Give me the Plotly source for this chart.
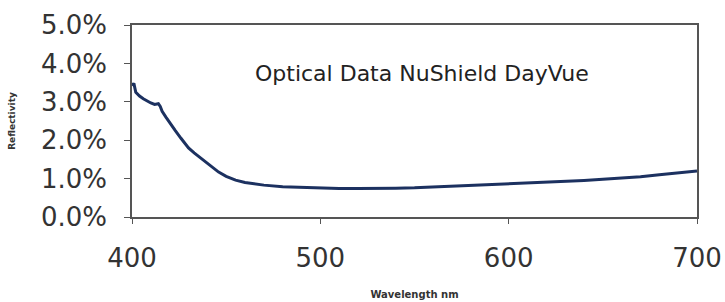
import plotly.graph_objects as go

wavelength = [400, 401, 402, 404, 406, 408, 410, 412, 414, 415, 416, 418, 420, 423, 426,
              430, 433, 436, 440, 443, 446, 450, 455, 460, 465, 470, 480, 490, 500, 510,
              520, 530, 540, 550, 560, 570, 580, 590, 600, 610, 620, 630, 640, 650, 660,
              670, 680, 690, 695, 700]
reflectivity_pct = [3.42, 3.48, 3.25, 3.15, 3.08, 3.02, 2.97, 2.93, 2.95, 2.88, 2.75, 2.6, 2.45,
                    2.25, 2.05, 1.8, 1.67, 1.55, 1.4, 1.27, 1.17, 1.06, 0.96, 0.9, 0.86,
                    0.83, 0.79, 0.77, 0.75, 0.74, 0.74, 0.74, 0.75, 0.76, 0.78, 0.80, 0.82,
                    0.84, 0.86, 0.88, 0.91, 0.93, 0.95, 0.98, 1.01, 1.05, 1.10, 1.15, 1.17, 1.20]
x_ticks = [400, 500, 600, 700]
y_ticks = [0.0, 0.01, 0.02, 0.03, 0.04, 0.05]
title_text = "Optical Data NuShield DayVue"
x_title = "Wavelength nm"
y_title = "Reflectivity"

fig = go.Figure()
fig.add_trace(go.Scatter(
    x=wavelength,
    y=[v / 100 for v in reflectivity_pct],
    mode="lines",
    line=dict(color="#1c3160", width=3),
    showlegend=False,
))

fig.update_layout(
    width=725, height=302,
    margin=dict(l=132, r=28, t=25, b=85),
    paper_bgcolor="white",
    plot_bgcolor="white",
    font=dict(family="DejaVu Sans", color="#333"),
    annotations=[dict(
        text=title_text, x=0.513, y=0.75, xref="paper", yref="paper",
        xanchor="center", yanchor="middle",
        showarrow=False, font=dict(family="DejaVu Sans", size=22, color="#222"),
    )],
)
fig.update_xaxes(
    range=[400, 700], tickvals=x_ticks, ticks="outside", ticklen=5,
    tickcolor="#555", showline=True, linecolor="#555", linewidth=1.5, mirror=True,
    showgrid=False, zeroline=False, tickfont=dict(size=26, color="#333"),
    ticklabelstandoff=12, automargin=False,
    title=dict(text="<b>" + x_title + "</b>", font=dict(size=10, color="#333"), standoff=19),
)
fig.update_yaxes(
    range=[0, 0.05], tickvals=y_ticks, tickformat=".1%", ticks="outside", ticklen=6,
    tickcolor="#555", showline=True, linecolor="#555", linewidth=1.5, mirror=True,
    showgrid=False, zeroline=False, tickfont=dict(size=26, color="#333"),
    ticklabelstandoff=12, automargin=False,
    title=dict(text="<b>" + y_title + "</b>", font=dict(size=9, color="#333"), standoff=24),
)

fig.write_html(
    "out.html",
    config={"displayModeBar": False},
    post_script="document.body.style.margin='0';document.body.style.overflow='hidden';",
)
